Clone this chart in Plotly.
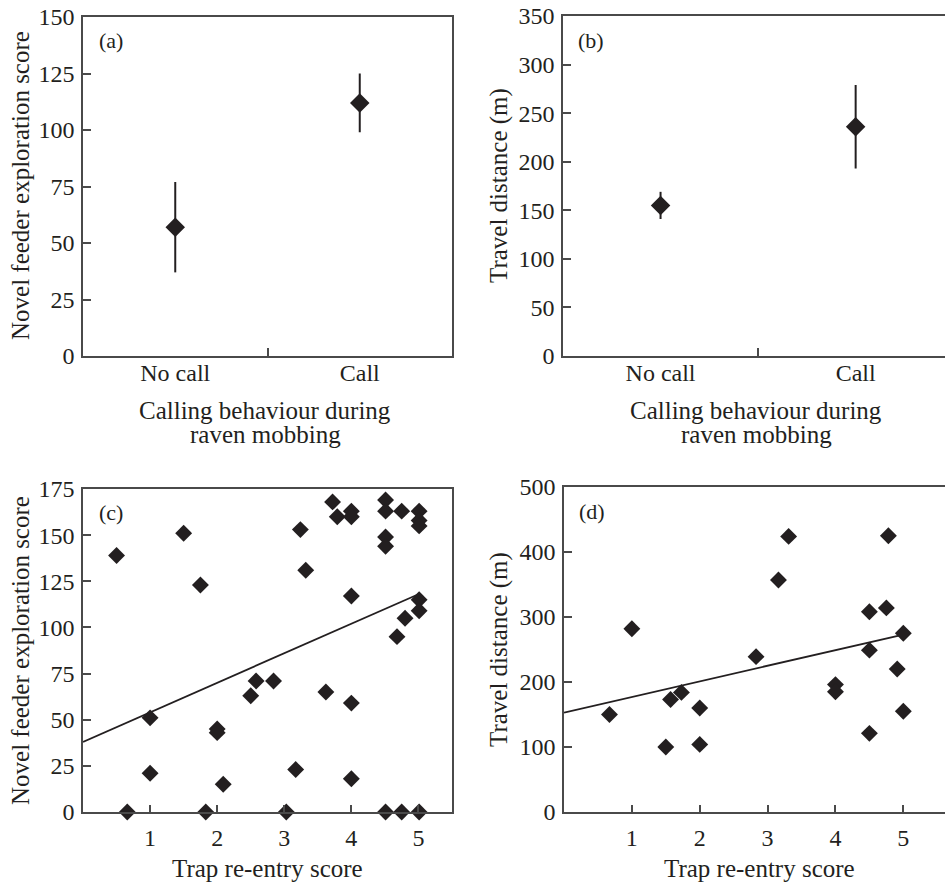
import plotly.graph_objects as go

FONT = "Liberation Serif"
INK = "#231f20"
AXC = "#4a4a4a"
W, H = 945, 883

# ---------------- data ----------------
cat_pos = [1, 2]
cat_labels = ["No call", "Call"]

a_mean = [57, 112]
a_upper = [77, 125]
a_lower = [37, 99]

b_mean = [155, 236]
b_upper = [169, 279]
b_lower = [141, 193]

c_x = [0.50, 1.50, 1.75, 3.24, 3.32, 3.72, 3.79, 4.00, 4.00, 4.51, 4.51, 4.75,
       5.01, 5.01, 5.01, 4.51, 4.51, 4.00, 5.01, 5.01, 4.80, 4.68, 2.58, 2.84,
       2.50, 3.62, 4.00, 1.00, 2.00, 2.00, 1.00, 2.09, 3.17, 4.00, 0.66, 1.83,
       3.03, 4.51, 4.75, 5.01]
c_y = [139, 151, 123, 153, 131, 168, 160, 163, 160, 169, 163, 163,
       163, 158, 155, 149, 144, 117, 115, 109, 105, 95, 71, 71,
       63, 65, 59, 51, 45, 43, 21, 15, 23, 18, 0, 0,
       0, 0, 0, 0]
c_fit_x = [0, 5]
c_fit_y = [38, 118]

d_x = [0.67, 1.00, 1.50, 1.57, 1.73, 2.00, 2.00, 2.83, 3.16, 3.31, 4.00, 4.00,
       4.50, 4.50, 4.50, 4.75, 4.78, 5.00, 4.91, 5.00]
d_y = [150, 282, 100, 173, 184, 160, 104, 239, 357, 424, 196, 185,
       308, 249, 121, 314, 425, 275, 220, 155]
d_fit_x = [0, 5]
d_fit_y = [153, 273]

a_yticks = [0, 25, 50, 75, 100, 125, 150]
b_yticks = [0, 50, 100, 150, 200, 250, 300, 350]
c_yticks = [0, 25, 50, 75, 100, 125, 150, 175]
d_yticks = [0, 100, 200, 300, 400, 500]
cd_xticks = [1, 2, 3, 4, 5]


def px_x(p):
    return p / W


def px_y(p):
    return 1 - p / H


fig = go.Figure()

# (a)
fig.add_trace(go.Scatter(
    x=cat_pos, y=a_mean, mode="markers", xaxis="x", yaxis="y",
    marker=dict(symbol="diamond", size=15, color=INK),
    error_y=dict(type="data", symmetric=False,
                 array=[u - m for u, m in zip(a_upper, a_mean)],
                 arrayminus=[m - l for m, l in zip(a_mean, a_lower)],
                 width=0, thickness=2, color=INK),
    showlegend=False))
# (b)
fig.add_trace(go.Scatter(
    x=cat_pos, y=b_mean, mode="markers", xaxis="x2", yaxis="y2",
    marker=dict(symbol="diamond", size=15, color=INK),
    error_y=dict(type="data", symmetric=False,
                 array=[u - m for u, m in zip(b_upper, b_mean)],
                 arrayminus=[m - l for m, l in zip(b_mean, b_lower)],
                 width=0, thickness=2, color=INK),
    showlegend=False))
# (c)
fig.add_trace(go.Scatter(x=c_fit_x, y=c_fit_y, mode="lines", xaxis="x3", yaxis="y3",
                         line=dict(color=INK, width=1.8), showlegend=False))
fig.add_trace(go.Scatter(x=c_x, y=c_y, mode="markers", xaxis="x3", yaxis="y3",
                         marker=dict(symbol="diamond", size=13, color=INK),
                         cliponaxis=False, showlegend=False))
# (d)
fig.add_trace(go.Scatter(x=d_fit_x, y=d_fit_y, mode="lines", xaxis="x4", yaxis="y4",
                         line=dict(color=INK, width=1.8), showlegend=False))
fig.add_trace(go.Scatter(x=d_x, y=d_y, mode="markers", xaxis="x4", yaxis="y4",
                         marker=dict(symbol="diamond", size=13, color=INK),
                         cliponaxis=False, showlegend=False))

tickfont = dict(family=FONT, size=24, color=INK)

common_ax = dict(showgrid=False, zeroline=False, showline=True, linecolor=AXC,
                 linewidth=1.5, tickfont=tickfont, tickcolor=AXC, tickwidth=1.5,
                 fixedrange=True, automargin=False)

dom_left = [px_x(83), px_x(452)]
dom_right_b = [px_x(563), 1.0]
dom_right_d = [px_x(564), 1.0]
dom_top_a = [px_y(356), px_y(17)]
dom_top_b = [px_y(356), px_y(16)]
dom_bot_c = [px_y(812), px_y(489)]
dom_bot_d = [px_y(812), px_y(487)]

cat_x = dict(common_ax, tickvals=cat_pos, ticktext=cat_labels, ticks="",
             ticklabelstandoff=-6,
             minor=dict(tickvals=[1.5], ticks="inside", ticklen=8,
                        tickcolor=AXC, tickwidth=1.5))

fig.update_layout(
    width=W, height=H,
    margin=dict(l=0, r=0, t=0, b=0, autoexpand=False),
    paper_bgcolor="white", plot_bgcolor="white",
    font=dict(family=FONT, color=INK),
    xaxis=dict(cat_x, domain=dom_left, range=[0.5, 2.5], mirror=True, anchor="y"),
    yaxis=dict(common_ax, domain=dom_top_a, range=[0, 150], tickvals=a_yticks,
               ticks="inside", ticklen=8, mirror=True, anchor="x", ticklabelstandoff=2),
    xaxis2=dict(cat_x, domain=dom_right_b, range=[0.5, 2.458], mirror=True, anchor="y2"),
    yaxis2=dict(common_ax, domain=dom_top_b, range=[0, 350], tickvals=b_yticks,
                ticks="inside", ticklen=8, mirror=False, anchor="x2", ticklabelstandoff=2),
    xaxis3=dict(common_ax, domain=dom_left, range=[0, 5.5], tickvals=cd_xticks,
                ticks="inside", ticklen=7, mirror=True, anchor="y3", ticklabelstandoff=3),
    yaxis3=dict(common_ax, domain=dom_bot_c, range=[0, 175], tickvals=c_yticks,
                ticks="inside", ticklen=8, mirror=True, anchor="x3", ticklabelstandoff=2),
    xaxis4=dict(common_ax, domain=dom_right_d, range=[0, 5.614], tickvals=cd_xticks,
                ticks="inside", ticklen=7, mirror=True, anchor="y4", ticklabelstandoff=3),
    yaxis4=dict(common_ax, domain=dom_bot_d, range=[0, 500], tickvals=d_yticks,
                ticks="inside", ticklen=8, mirror=False, anchor="x4", ticklabelstandoff=2),
)

titlefont = dict(family=FONT, size=25, color=INK)
labfont = dict(family=FONT, size=22, color=INK)

ann = []
# y titles
for xc, yc, txt in [(20, 186, "Novel feeder exploration score"),
                    (499, 186, "Travel distance (m)"),
                    (20, 651, "Novel feeder exploration score"),
                    (499, 650, "Travel distance (m)")]:
    ann.append(dict(text=txt, x=px_x(xc), y=px_y(yc), xref="paper", yref="paper",
                    xanchor="center", yanchor="middle", textangle=-90,
                    showarrow=False, font=titlefont))
# x titles
for xc, yc, txt in [(265, 410, "Calling behaviour during"),
                    (265, 434, "raven mobbing"),
                    (756, 410, "Calling behaviour during"),
                    (756, 434, "raven mobbing"),
                    (267, 868, "Trap re-entry score"),
                    (759, 868, "Trap re-entry score")]:
    ann.append(dict(text=txt, x=px_x(xc), y=px_y(yc), xref="paper", yref="paper",
                    xanchor="center", yanchor="middle",
                    showarrow=False, font=titlefont))
# panel labels
for xl, yc, txt in [(97, 40, "(a)"), (576, 40, "(b)"), (97, 512, "(c)"), (577, 511, "(d)")]:
    ann.append(dict(text=txt, x=px_x(xl), y=px_y(yc), xref="paper", yref="paper",
                    xanchor="left", yanchor="middle", showarrow=False, font=labfont))

fig.update_layout(annotations=ann)

fig.write_html("out.html", config={"displayModeBar": False},
               post_script="document.body.style.margin='0px';")
